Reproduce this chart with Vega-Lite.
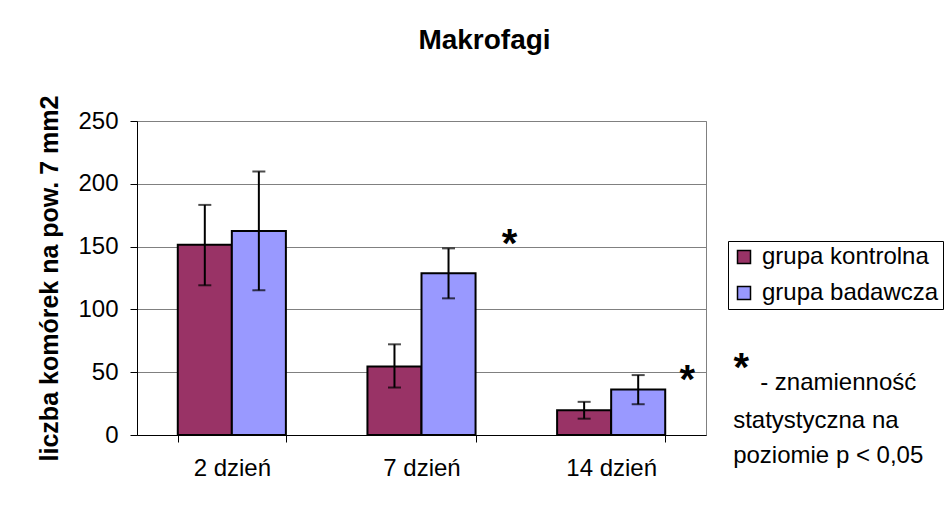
{
  "$schema": "https://vega.github.io/schema/vega-lite/v6.json",
  "width": 569,
  "height": 314,
  "autosize": {"type": "none"},
  "padding": {"left": 137, "top": 121, "right": 243, "bottom": 76},
  "background": "white",
  "config": {
    "font": "Liberation Sans",
    "view": {"stroke": "#808080", "strokeWidth": 1}
  },
  "title": {"text": "Makrofagi", "fontSize": 28, "font": "Liberation Sans", "fontWeight": "bold", "color": "black", "anchor": "middle", "dx": 63, "offset": 40},
  "data": {"values": [
    {"day": "2 dzień", "group": "grupa kontrolna", "value": 151.4, "lo": 119.2, "hi": 183.2},
    {"day": "2 dzień", "group": "grupa badawcza", "value": 162.5, "lo": 115.2, "hi": 209.8},
    {"day": "7 dzień", "group": "grupa kontrolna", "value": 54.6, "lo": 37.8, "hi": 72.2},
    {"day": "7 dzień", "group": "grupa badawcza", "value": 128.8, "lo": 108.8, "hi": 148.6},
    {"day": "14 dzień", "group": "grupa kontrolna", "value": 19.8, "lo": 13.0, "hi": 26.4},
    {"day": "14 dzień", "group": "grupa badawcza", "value": 36.3, "lo": 24.5, "hi": 47.7}
  ]},
  "layer": [
    {
      "mark": {"type": "bar", "stroke": "black", "strokeWidth": 2},
      "encoding": {
        "x": {"field": "day", "type": "nominal", "scale": {"domain": ["2 dzień", "7 dzień", "14 dzień"], "paddingInner": 0.43, "paddingOuter": 0.215},
          "axis": {"title": null, "tickBand": "extent", "tickSize": 7, "tickColor": "black", "domainColor": "black", "labelFontSize": 24, "labelAngle": 0, "labelPadding": 14, "labelColor": "black", "labelFont": "Liberation Sans", "grid": false}},
        "xOffset": {"field": "group", "type": "nominal", "scale": {"domain": ["grupa kontrolna", "grupa badawcza"], "paddingInner": 0, "paddingOuter": 0}},
        "y": {"field": "value", "type": "quantitative", "scale": {"domain": [0, 250], "nice": false},
          "axis": {"values": [0, 50, 100, 150, 200, 250], "grid": true, "gridColor": "#808080", "gridWidth": 1, "tickSize": 7, "tickColor": "black", "domainColor": "black", "labelFontSize": 24, "labelFont": "Liberation Sans", "labelColor": "black", "labelPadding": 12, "title": "liczba komórek na pow. 7 mm2", "titleFontSize": 25, "titleFont": "Liberation Sans", "titleFontWeight": "bold", "titleColor": "black", "titlePadding": 15}},
        "color": {"field": "group", "type": "nominal", "scale": {"domain": ["grupa kontrolna", "grupa badawcza"], "range": ["#993366", "#9999FF"]},
          "legend": {"title": null, "orient": "none", "legendX": 591, "legendY": 120, "symbolType": "square", "symbolSize": 169, "symbolStrokeColor": "black", "symbolStrokeWidth": 1.5, "symbolOpacity": 1, "labelFontSize": 24, "labelFont": "Liberation Sans", "labelColor": "black", "labelOffset": 6, "rowPadding": 12, "padding": 4, "strokeColor": "black", "fillColor": "white", "labelLimit": 300}}
      }
    },
    {
      "mark": {"type": "rule", "strokeWidth": 2, "color": "black"},
      "encoding": {
        "x": {"field": "day", "type": "nominal"},
        "xOffset": {"field": "group", "type": "nominal"},
        "y": {"field": "lo", "type": "quantitative"},
        "y2": {"field": "hi"}
      }
    },
    {
      "mark": {"type": "tick", "thickness": 2, "size": 13, "color": "black"},
      "encoding": {
        "x": {"field": "day", "type": "nominal"},
        "xOffset": {"field": "group", "type": "nominal"},
        "y": {"field": "lo", "type": "quantitative"}
      }
    },
    {
      "mark": {"type": "tick", "thickness": 2, "size": 13, "color": "black"},
      "encoding": {
        "x": {"field": "day", "type": "nominal"},
        "xOffset": {"field": "group", "type": "nominal"},
        "y": {"field": "hi", "type": "quantitative"}
      }
    },
    {
      "data": {"values": [{}]},
      "mark": {"type": "text", "text": "*", "fontSize": 40, "fontWeight": "bold", "align": "center", "baseline": "middle", "dx": 88, "dy": 9, "color": "black"},
      "encoding": {
        "x": {"datum": "7 dzień", "type": "nominal"},
        "y": {"datum": 158.8, "type": "quantitative"}
      }
    },
    {
      "data": {"values": [{}]},
      "mark": {"type": "text", "text": "*", "fontSize": 40, "fontWeight": "bold", "align": "center", "baseline": "middle", "dx": 76, "dy": 9, "color": "black"},
      "encoding": {
        "x": {"datum": "14 dzień", "type": "nominal"},
        "y": {"datum": 50, "type": "quantitative"}
      }
    },
    {
      "data": {"values": [{}]},
      "mark": {"type": "text", "text": "*", "fontSize": 40, "fontWeight": "bold", "align": "center", "baseline": "middle", "dx": 130, "dy": 9, "color": "black"},
      "encoding": {
        "x": {"datum": "14 dzień", "type": "nominal"},
        "y": {"datum": 60, "type": "quantitative"}
      }
    },
    {
      "data": {"values": [{}]},
      "mark": {"type": "text", "text": "- znamienność", "fontSize": 24, "align": "left", "baseline": "alphabetic", "dx": 149, "color": "black"},
      "encoding": {
        "x": {"datum": "14 dzień", "type": "nominal"},
        "y": {"datum": 35.8, "type": "quantitative"}
      }
    },
    {
      "data": {"values": [{}]},
      "mark": {"type": "text", "text": ["statystyczna na", "poziomie p < 0,05"], "fontSize": 24, "lineHeight": 35, "align": "left", "baseline": "alphabetic", "dx": 122, "color": "black"},
      "encoding": {
        "x": {"datum": "14 dzień", "type": "nominal"},
        "y": {"datum": 5.6, "type": "quantitative"}
      }
    }
  ]
}
